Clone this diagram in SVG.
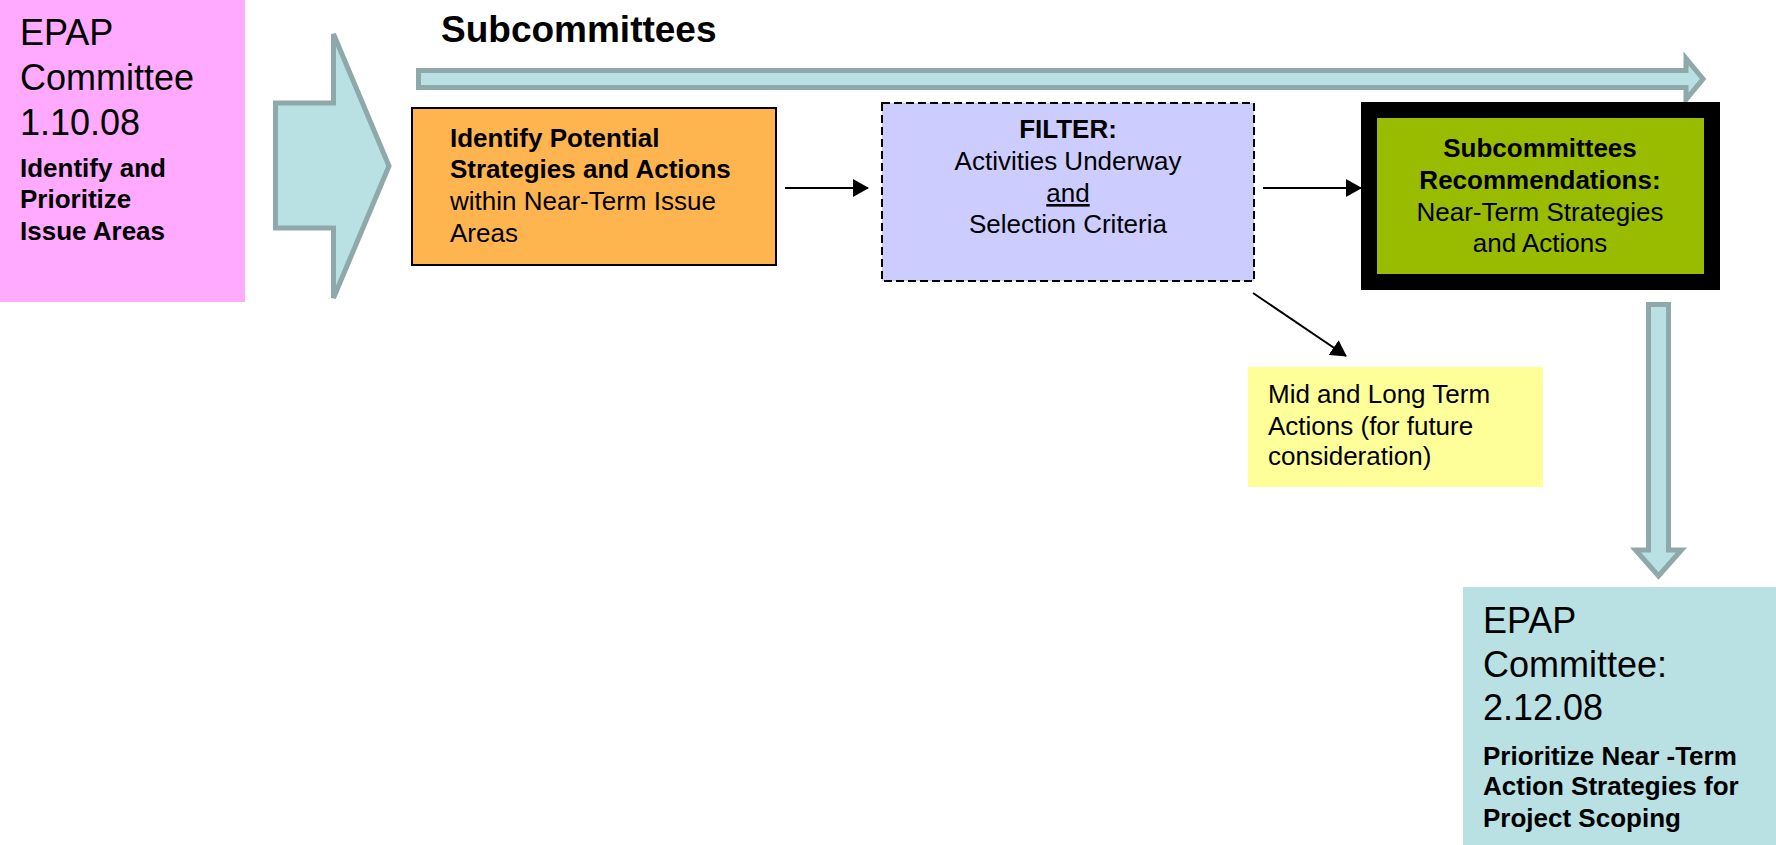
<svg xmlns="http://www.w3.org/2000/svg" width="1776" height="845" viewBox="0 0 1776 845">
<style>
text{font-family:"Liberation Sans",Arial,sans-serif;fill:#000}
.big{font-size:36px}
.t{font-size:26px}
.b{font-weight:bold}
.fat{fill:#B9E0E3;stroke:#8FA8AA;stroke-width:5;stroke-linejoin:miter}
.con{stroke:#000;stroke-width:2;fill:none}
</style>
<defs>
<marker id="ah" markerUnits="userSpaceOnUse" markerWidth="16" markerHeight="18" refX="15" refY="9" orient="auto">
<path d="M0,0 L16,9 L0,18 z" fill="#000"/>
</marker>
</defs>
<rect width="1776" height="845" fill="#fff"/>

<g id="connectors">
<path class="fat" d="M275.5,103 L333.5,103 L333.5,34 L389,166 L333.5,298 L333.5,228 L275.5,228 z"/>
<path class="fat" d="M418.5,70.5 L1686,70.5 L1686,58.5 L1703,79 L1686,99.5 L1686,87.5 L418.5,87.5 z"/>
<path class="fat" d="M1648.5,304.5 L1668.5,304.5 L1668.5,550 L1681.5,550 L1658.5,576 L1635.5,550 L1648.5,550 z"/>
<line class="con" x1="785" y1="188" x2="868" y2="188" marker-end="url(#ah)"/>
<line class="con" x1="1263" y1="188" x2="1361" y2="188" marker-end="url(#ah)"/>
<line class="con" x1="1253" y1="293" x2="1346" y2="356" marker-end="url(#ah)"/>
</g>

<g id="epap1">
<rect x="0" y="0" width="245" height="302" fill="#FFAAFF"/>
<text class="big" x="20" y="45">EPAP</text>
<text class="big" x="20" y="90">Committee</text>
<text class="big" x="20" y="135">1.10.08</text>
<text class="t b" x="20" y="177">Identify and</text>
<text class="t b" x="20" y="208">Prioritize</text>
<text class="t b" x="20" y="240">Issue Areas</text>
</g>

<g id="heading">
<text class="b" x="441" y="42" font-size="37">Subcommittees</text>
</g>

<g id="identify">
<rect x="412" y="108" width="364" height="157" fill="#FFB54F" stroke="#000" stroke-width="2"/>
<text class="t b" x="450" y="147">Identify Potential</text>
<text class="t b" x="450" y="178">Strategies and Actions</text>
<text class="t" x="450" y="210">within Near-Term Issue</text>
<text class="t" x="450" y="242">Areas</text>
</g>

<g id="filter">
<rect x="882" y="103" width="372" height="178" fill="#CCCCFF" stroke="#000" stroke-width="2" stroke-dasharray="8,4"/>
<text class="t" x="1068" y="138" text-anchor="middle" font-weight="bold">FILTER:</text>
<text class="t" x="1068" y="170" text-anchor="middle">Activities Underway</text>
<text class="t" x="1068" y="202" text-anchor="middle" text-decoration="underline">and</text>
<text class="t" x="1068" y="233" text-anchor="middle">Selection Criteria</text>
</g>

<g id="recommendations">
<rect x="1369" y="110" width="343" height="172" fill="#99BB00" stroke="#000" stroke-width="16"/>
<text class="t b" x="1540" y="157" text-anchor="middle">Subcommittees</text>
<text class="t b" x="1540" y="189" text-anchor="middle">Recommendations:</text>
<text class="t" x="1540" y="221" text-anchor="middle">Near-Term Strategies</text>
<text class="t" x="1540" y="252" text-anchor="middle">and Actions</text>
</g>

<g id="midlong">
<rect x="1248" y="367" width="295" height="120" fill="#FFFF99"/>
<text class="t" x="1268" y="403">Mid and Long Term</text>
<text class="t" x="1268" y="435">Actions (for future</text>
<text class="t" x="1268" y="465">consideration)</text>
</g>

<g id="epap2">
<rect x="1463" y="587" width="313" height="258" fill="#B9E0E3"/>
<text class="big" x="1483" y="633">EPAP</text>
<text class="big" x="1483" y="677">Committee:</text>
<text class="big" x="1483" y="720">2.12.08</text>
<text class="t b" x="1483" y="765">Prioritize Near -Term</text>
<text class="t b" x="1483" y="795">Action Strategies for</text>
<text class="t b" x="1483" y="827">Project Scoping</text>
</g>
</svg>
